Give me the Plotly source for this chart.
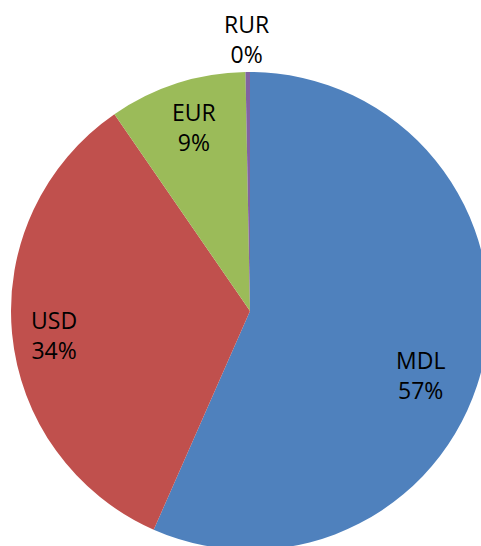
import plotly.graph_objects as go

categories = ["MDL", "USD", "EUR", "RUR"]
shares = [56.6, 33.8, 9.3, 0.3]
colors = ["#4F81BD", "#C0504D", "#9BBB59", "#8064A2"]

# label anchor positions (paper fractions) - layout only
label_x = [0.856, 0.090, 0.382, 0.492]
label_y = [0.366, 0.450, 0.884, 1.069]

W, H = 500, 560
ML, MR, MT, MB = 11, 11, 72, 10

fig = go.Figure(
    go.Pie(
        labels=categories,
        values=shares,
        sort=False,
        direction="clockwise",
        rotation=0,
        marker=dict(colors=colors, line=dict(width=0)),
        textinfo="none",
        showlegend=False,
        hoverinfo="label+percent",
    )
)

total = sum(shares)
for cat, val, lx, ly in zip(categories, shares, label_x, label_y):
    fig.add_annotation(
        x=lx, y=ly, xref="paper", yref="paper",
        text=f"{cat}<br>{round(val / total * 100)}%",
        showarrow=False,
        xanchor="center", yanchor="middle",
        align="center",
        font=dict(family="Open Sans", size=23, color="#000000"),
    )

fig.update_layout(
    width=W,
    height=H,
    margin=dict(l=ML, r=MR, t=MT, b=MB, autoexpand=False),
    paper_bgcolor="#FFFFFF",
    plot_bgcolor="#FFFFFF",
)

fig.write_html(
    "out.html",
    config={"displayModeBar": False},
    post_script="document.documentElement.style.overflow='hidden';document.body.style.overflow='hidden';",
)
